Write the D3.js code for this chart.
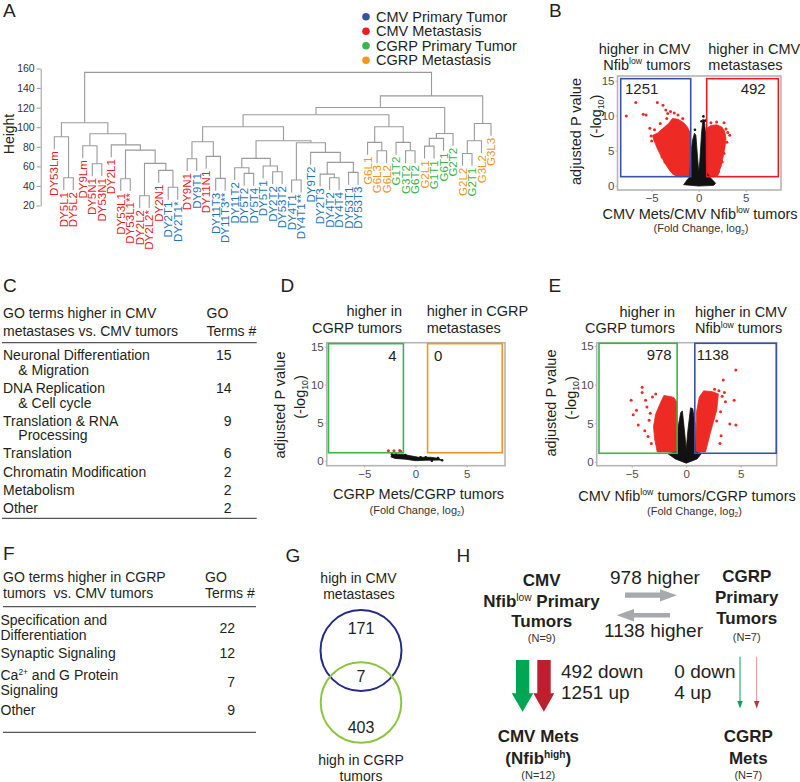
<!DOCTYPE html>
<html><head><meta charset="utf-8">
<script src="https://cdn.jsdelivr.net/npm/d3@7"></script>
<style>
body{margin:0;background:#fff;}
svg{font-family:"Liberation Sans",Arial,Helvetica,sans-serif;}
</style></head><body>
<svg id="chart" width="800" height="782"></svg>
<script>
// ---------------- DATA ----------------
const legendLabels = ["CMV Primary Tumor","CMV Metastasis","CGRP Primary Tumor","CGRP Metastasis"];
const legendColors = ["#3953a4","#ed1c24","#39b54a","#f7941d"];
const labelColors = {CP:"#1c75bc", CM:"#ed1c24", GP:"#39b54a", GM:"#f7941d"};
const cmvMetLeaves = ["DY53Lm","DY5L1","DY5L2","DY9Lm","DY5N1","DY53N1","DY2L1","DY53L1","DY53L1**","DY2L2","DY2L2*","DY2N1","DY9N1","DY11N1"];
const cgrpMetLeaves = ["G6L1","G6L3","G6L2","G2L1","G2L2","G3L2","G3L3"];
const cgrpPrimLeaves = ["G1T2","G3T2","G6T2","G1T1","G6T1","G2T2","G2T1"];
// dendrogram: [mergeHeight, left, right]
const dendroTree = [156,
  [104.5,
    [90.2, "DY53Lm", [48.4, "DY5L1", "DY5L2"]],
    [93.3,
      [81, "DY9Lm", [62.7, "DY5N1", "DY53N1"]],
      [82, "DY2L1",
        [76.6,
          [47.3, "DY53L1", "DY53L1**"],
          [63, [30, "DY2L2", "DY2L2*"], [55.9, "DY2N1", [38.6, "DY2T1", "DY2T1*"]]]]]]],
  [132,
    [120.2,
      [112.7,
        [100.4,
          [85.1, [67.8, "DY9N1", "DY9T1"], [70.2, "DY11N1", [47.7, "DY11T3", "DY11T3**"]]],
          [86.1,
            [68.2, [58.6, "DY11T2", [52.8, "DY5T2", "DY5T4"]], [60.3, "DY5T1", [54.5, "DY2T2", "DY53T2"]]],
            [84.1, [46, "DY4T1", "DY4T1**"],
              [74.3, "DY9T2", [64.1, [52.1, "DY2T3", [48.4, "DY4T2", "DY4T4"]], [53.9, "DY53T1", "DY53T3"]]]]]],
        [100.4,
          [84.5, "G6L1", [75.9, "G6L3", "G6L2"]],
          [84.5, "G1T2", [75.9, "G3T2", "G6T2"]]]],
      [93.6, [88.6, [80.7, "G2L1", "G1T1"], "G6T1"], "G2T2"]],
    [103.8, [86.1, [73.2, "G2L2", "G2T1"], "G3L2"], "G3L3"]]];
const heightTicks = [20,40,60,80,100,120,140,160];
const volcanoTicksX = [-5,0,5];
const volcanoTicksY = [0,5,10,15];

// Panel B (CMV Mets / CMV Nfib-low tumors)
const bRedLeft = [[-0.92,1.3],[-2.4,1.3],[-3.0,2.0],[-3.5,3.0],[-4.0,4.2],[-4.4,5.3],[-4.8,6.6],[-4.9,7.2],[-4.4,7.5],[-3.8,8.2],[-3.2,8.9],[-2.8,9.6],[-2.2,9.5],[-1.6,9.0],[-1.2,8.4],[-0.92,7.6]];
const bRedRight = [[0.8,1.3],[2.0,1.3],[2.3,2.5],[2.55,3.8],[2.8,5.5],[2.9,6.8],[2.75,7.8],[2.45,8.4],[1.9,8.7],[1.3,8.6],[0.95,8.3],[0.8,7.0]];
const bBlack = [[-1.6,0.15],[-1.2,0.9],[-0.92,1.3],[-0.85,4.5],[-0.65,6.5],[-0.45,7.5],[-0.3,7.2],[-0.12,4.0],[0,2.0],[0.12,3.5],[0.3,7.5],[0.45,9.5],[0.6,9.3],[0.75,7.2],[0.78,2.0],[1.2,1.2],[1.8,0.35],[1.6,0.05],[0,-0.05]];
const bRedPts = [[-7.7,9.96],[-6.7,11.9],[-5.9,10.2],[-5.6,10.1],[-4.4,11.9],[-3.8,11.5],[-3.5,10.8],[-5.06,7.1],[-5.2,8.2],[-4.7,8.0],[-3.9,4.1],[-5.0,6.4],[-4.3,5.7],[-4.5,6.9],[-3.3,10.3],[-3.0,10.6],[-2.6,10.4],[-4.1,8.9],[-3.6,3.4],[-3.1,2.6],[-2.7,1.8],[-3.4,9.6],[-2.2,10.1],[-1.7,9.6],[2.7,9.0],[3.3,7.2],[3.1,7.6],[2.6,5.5],[2.2,4.2],[2.7,4.6],[2.3,2.9],[2.9,8.1],[1.9,9.1],[1.3,9.0],[3.0,6.2],[2.5,3.4],[2.1,2.0]];
const bBlackPts = [[0.5,9.9],[0.3,9.2],[-0.4,8.0],[0.7,9.3]];
const bCounts = [1251, 492];

// Panel D (CGRP Mets / CGRP tumors)
const dBlack = [[-2.3,0.85],[-1.2,0.85],[-0.5,0.65],[0.3,0.45],[1.5,0.45],[2.3,0.3],[2.5,0.08],[1.0,0.05],[0.0,0.0],[-1.0,0.2],[-2.0,0.3],[-2.4,0.5]];
const dRedPts = [[-2.65,1.32],[-2.1,1.3],[-1.55,1.35],[-1.45,1.25]];
const dBlackPts = [[-2.3,0.85],[-1.9,0.8],[-1.0,0.75],[0.5,0.45],[1.6,0.0],[2.6,0.05],[2.2,0.35],[1.0,0.45]];
const dCounts = [4, 0];

// Panel E (CMV Nfib-low tumors / CGRP tumors)
const eRedLeft = [[-0.83,1.3],[-2.66,1.3],[-2.9,3.0],[-3.0,4.6],[-2.8,6.2],[-2.5,7.2],[-2.05,8.6],[-1.6,8.5],[-1.14,8.35],[-0.83,7.7]];
const eRedRight = [[0.85,1.3],[1.77,1.3],[2.2,3.7],[2.8,6.7],[2.95,8.8],[2.4,9.1],[1.6,9.2],[1.2,8.4],[0.95,6.5]];
const eBlack = [[-1.7,1.1],[-0.83,1.3],[-0.75,4.5],[-0.5,6.4],[-0.35,6.6],[-0.12,3.5],[0,1.6],[0.15,4.0],[0.4,7.0],[0.6,6.9],[0.8,5.0],[0.82,1.3],[1.4,1.1],[1.0,0.4],[0,-0.15],[-1.0,0.4]];
const eRedPts = [[-5.05,8.0],[-4.86,6.1],[-4.56,6.7],[-4.04,9.66],[-4.04,9.0],[-3.73,8.0],[-4.4,4.8],[-3.4,5.4],[-3.8,4.05],[-3.5,3.3],[-3.2,2.4],[-2.8,8.8],[-3.1,8.4],[-3.3,6.3],[-3.6,7.1],[3.4,10.6],[4.55,11.9],[4.4,8.0],[4.56,4.8],[4.0,4.9],[3.6,7.8],[3.15,6.5],[3.1,2.4],[3.5,9.0],[3.3,8.5],[2.8,5.3],[3.0,9.2],[2.6,9.4],[3.2,3.4]];
const eBlackPts = [];
const eCounts = [978, 1138];

// Panel C table
const goCmvTerms = [["Neuronal Differentiation","& Migration"],["DNA Replication","& Cell cycle"],["Translation & RNA","Processing"],["Translation"],["Chromatin Modification"],["Metabolism"],["Other"]];
const goCmvCounts = [15,14,9,6,2,2,2];
// Panel F table
const goCgrpTerms = [["Specification and","Differentiation"],["Synaptic Signaling"],[["Ca",["2+","sup"]," and G Protein"],"Signaling"],["Other"]];
const goCgrpCounts = [22,12,7,9];
// Panel G venn
const vennCounts = [171, 7, 403];
// Panel H summary
const hCmvDiff = [492, 1251];
const hCgrpDiff = [0, 4];
const hBetween = [978, 1138];
const hN = {cmvPrim:9, cgrpPrim:7, cmvMet:12, cgrpMet:7};

// ---------------- HELPERS ----------------
const svg = d3.select("#chart");
const ink = "#231f20";
function rich(parent, x, y, parts, o) {
  const size = o.size;
  const t = parent.append("text").attr("x", x).attr("y", y).attr("font-size", size)
    .attr("fill", o.fill || ink).attr("text-anchor", o.anchor || "start");
  if (o.weight) t.attr("font-weight", o.weight);
  if (o.transform) t.attr("transform", o.transform);
  let shift = 0;
  (Array.isArray(parts) ? parts : [parts]).forEach(p => {
    let s = p, kind = null;
    if (Array.isArray(p)) { s = p[0]; kind = p[1]; }
    const target = kind === "sup" ? -size * 0.36 : kind === "sub" ? size * 0.25 : 0;
    const ts = t.append("tspan").text(s);
    if (target !== shift) { ts.attr("dy", target - shift); shift = target; }
    if (kind) { ts.attr("font-size", size * 0.6); if (o.supWeight) ts.attr("font-weight", o.supWeight); }
  });
  return t;
}
function panelLetter(ch, x, y) {
  svg.append("text").attr("x", x).attr("y", y).attr("font-size", 19).attr("font-weight", 300)
    .attr("fill", ink).text(ch);
}

// ---------------- PANEL A: dendrogram ----------------
(function () {
  const g = svg.append("g");
  function leavesOf(n, out) { if (typeof n === "string") out.push(n); else { leavesOf(n[1], out); leavesOf(n[2], out); } return out; }
  const leaves = leavesOf(dendroTree, []);
  const x = d3.scalePoint().domain(leaves).range([54.3, 491]);
  const y = d3.scaleLinear().domain([20, 160]).range([205.5, 68.5]);
  const HANG = 12.6;
  function groupOf(name) {
    if (cmvMetLeaves.includes(name)) return "CM";
    if (cgrpMetLeaves.includes(name)) return "GM";
    if (cgrpPrimLeaves.includes(name)) return "GP";
    return "CP";
  }
  const lines = g.append("g").attr("fill", "none").attr("stroke", "#9a9a9a").attr("stroke-width", 1.1);
  const labels = g.append("g").attr("font-size", 11.5);
  function draw(n, parentH) {
    if (typeof n === "string") {
      const h = parentH - HANG;
      const px = x(n), py = y(h);
      labels.append("text").attr("transform", `translate(${px},${py + 2}) rotate(-90)`)
        .attr("text-anchor", "end").attr("dy", "0.36em").attr("fill", labelColors[groupOf(n)]).text(n);
      return { x: px, h: h };
    }
    const l = draw(n[1], n[0]), r = draw(n[2], n[0]);
    lines.append("path").attr("d", `M${l.x},${y(l.h)}V${y(n[0])}H${r.x}V${y(r.h)}`);
    return { x: (l.x + r.x) / 2, h: n[0] };
  }
  draw(dendroTree, dendroTree[0]);
  const ax = g.append("g").attr("transform", "translate(40.7,0)")
    .call(d3.axisLeft(y).tickValues(heightTicks).tickSize(4).tickPadding(2).tickSizeOuter(0));
  ax.select(".domain").attr("stroke", "#9a9a9a");
  ax.selectAll(".tick line").attr("stroke", "#9a9a9a");
  ax.selectAll(".tick text").attr("font-size", 10.5).attr("fill", "#333").attr("font-family", null);
  g.append("text").attr("transform", "translate(14,134) rotate(-90)").attr("text-anchor", "middle")
    .attr("font-size", 14).attr("fill", ink).text("Height");
  // legend
  const lg = g.append("g");
  legendLabels.forEach((lab, i) => {
    const yy = 16.7 + i * 14.5;
    lg.append("circle").attr("cx", 366).attr("cy", yy).attr("r", 3.8).attr("fill", legendColors[i]);
    lg.append("text").attr("x", 376).attr("y", yy + 5).attr("font-size", 14.5).attr("fill", ink).text(lab);
  });
})();

// ---------------- VOLCANO PLOTS ----------------
function volcano(c) {
  const g = svg.append("g");
  const x = d3.scaleLinear().domain([-5, 5]).range(c.xr);
  const y = d3.scaleLinear().domain([0, 15]).range(c.yr);
  const line = d3.line().x(d => x(d[0])).y(d => y(d[1])).curve(d3.curveLinearClosed);
  g.append("rect").attr("x", c.frame[0]).attr("y", c.frame[1]).attr("width", c.frame[2] - c.frame[0])
    .attr("height", c.frame[3] - c.frame[1]).attr("fill", "none").attr("stroke", "#b5b5b5").attr("stroke-width", 1.6);
  const ax = g.append("g").attr("transform", `translate(0,${c.frame[3]})`)
    .call(d3.axisBottom(x).tickValues(volcanoTicksX).tickSize(2).tickPadding(2).tickSizeOuter(0));
  const ay = g.append("g").attr("transform", `translate(${c.frame[0]},0)`)
    .call(d3.axisLeft(y).tickValues(volcanoTicksY).tickSize(2).tickPadding(1).tickSizeOuter(0));
  [ax, ay].forEach(a => {
    a.select(".domain").remove();
    a.selectAll(".tick line").attr("stroke", "#b5b5b5");
    a.selectAll(".tick text").attr("font-size", 11.5).attr("fill", "#4d4d4d").attr("font-family", null);
  });
  c.redAreas.forEach(a => g.append("path").attr("d", line(a)).attr("fill", "#ee2a24").attr("stroke", "#ee2a24").attr("stroke-width", 0.8).attr("stroke-linejoin", "round"));
  if (c.black) g.append("path").attr("d", line(c.black)).attr("fill", "#111").attr("stroke", "#111").attr("stroke-width", 0.8).attr("stroke-linejoin", "round");
  g.selectAll(".rp").data(c.redPts).join("circle").attr("cx", d => x(d[0])).attr("cy", d => y(d[1])).attr("r", 1.5).attr("fill", "#ee2a24");
  g.selectAll(".bp").data(c.blackPts).join("circle").attr("cx", d => x(d[0])).attr("cy", d => y(d[1])).attr("r", 1.3).attr("fill", "#111");
  c.boxes.forEach(b => {
    g.append("rect").attr("x", x(b.x0)).attr("y", y(b.y1)).attr("width", x(b.x1) - x(b.x0))
      .attr("height", y(b.y0) - y(b.y1)).attr("fill", "none").attr("stroke", b.color).attr("stroke-width", 1.6);
  });
  c.counts.forEach((v, i) => g.append("text").attr("x", c.countPos[i][0]).attr("y", c.countPos[i][1])
    .attr("text-anchor", c.countPos[i][2]).attr("font-size", 15).attr("fill", ink).text(v));
  c.leftHead.forEach((ln, i) => rich(g, c.leftHeadX, c.headY[i], ln, { size: 14.5, anchor: c.leftHeadAnchor }));
  c.rightHead.forEach((ln, i) => rich(g, c.rightHeadX, c.headY[i], ln, { size: 14.5, anchor: "start" }));
  rich(g, 0, 0, "adjusted P value", { size: 14.5, anchor: "middle", transform: `translate(${c.yTitle[0]},${c.yTitle[1]}) rotate(-90)` });
  rich(g, 0, 0, ["(-log", ["10", "sub"], ")"], { size: 14.5, anchor: "middle", transform: `translate(${c.yTitle2[0]},${c.yTitle2[1]}) rotate(-90)` });
  rich(g, c.xTitle[0], c.xTitle[1], c.xTitleParts, { size: 14.5, anchor: "middle" });
  rich(g, c.xSub[0], c.xSub[1], ["(Fold Change, log", ["2", "sub"], ")"], { size: 11, anchor: "middle", fill: "#333" });
}

volcano({
  xr: [651.7, 745.7], yr: [185.7, 80.7], frame: [617.5, 76, 781, 190],
  redAreas: [bRedLeft, bRedRight], black: bBlack, redPts: bRedPts, blackPts: bBlackPts,
  boxes: [{ x0: -8.3, x1: -0.85, y0: 1.29, y1: 15.29, color: "#3953a4" }, { x0: 0.85, x1: 8.47, y0: 1.29, y1: 15.29, color: "#ed1c24" }],
  counts: bCounts, countPos: [[625, 93.5, "start"], [765.7, 93.5, "end"]],
  leftHead: ["higher in CMV", ["Nfib", ["low", "sup"], " tumors"]], leftHeadX: 690.5, leftHeadAnchor: "end",
  rightHead: ["higher in CMV", "metastases"], rightHeadX: 708.3, headY: [53.5, 69.5],
  yTitle: [580.5, 131.5], yTitle2: [600.5, 116.5],
  xTitle: [700, 218.5], xTitleParts: ["CMV Mets/CMV Nfib", ["low", "sup"], " tumors"], xSub: [701, 232]
});
volcano({
  xr: [364.3, 466.7], yr: [460.7, 346.7], frame: [326.7, 342.7, 505, 465.7],
  redAreas: [], black: dBlack, redPts: dRedPts, blackPts: dBlackPts,
  boxes: [{ x0: -8.5, x1: -1.18, y0: 1.05, y1: 15.4, color: "#39b54a" }, { x0: 1.18, x1: 8.47, y0: 1.05, y1: 15.4, color: "#f7941d" }],
  counts: dCounts, countPos: [[396.7, 361, "end"], [434, 361, "start"]],
  leftHead: ["higher in", "CGRP tumors"], leftHeadX: 402, leftHeadAnchor: "end",
  rightHead: ["higher in CGRP", "metastases"], rightHeadX: 426.7, headY: [316, 332.7],
  yTitle: [284.5, 405], yTitle2: [304.5, 397],
  xTitle: [418.5, 499.3], xTitleParts: ["CGRP Mets/CGRP tumors"], xSub: [417, 513.5]
});
volcano({
  xr: [631.7, 740.7], yr: [462, 346], frame: [596.7, 342.7, 776.7, 465.7],
  redAreas: [eRedLeft, eRedRight], black: eBlack, redPts: eRedPts, blackPts: eBlackPts,
  boxes: [{ x0: -8.0, x1: -0.83, y0: 1.13, y1: 15.35, color: "#39b54a" }, { x0: 0.79, x1: 8.26, y0: 1.13, y1: 15.35, color: "#3953a4" }],
  counts: eCounts, countPos: [[671.7, 360, "end"], [696.7, 360, "start"]],
  leftHead: ["higher in", "CGRP tumors"], leftHeadX: 675, leftHeadAnchor: "end",
  rightHead: ["higher in CMV", ["Nfib", ["low", "sup"], " tumors"]], rightHeadX: 695, headY: [316.7, 333],
  yTitle: [555.5, 403], yTitle2: [575.5, 398],
  xTitle: [687, 500.5], xTitleParts: ["CMV Nfib", ["low", "sup"], " tumors/CGRP tumors"], xSub: [694.5, 514.5]
});

// ---------------- PANEL C table ----------------
(function () {
  const g = svg.append("g").attr("font-size", 14).attr("fill", ink);
  g.append("text").attr("x", 3).attr("y", 317.5).text("GO terms higher in CMV");
  g.append("text").attr("x", 3).attr("y", 335.5).text("metastases vs. CMV tumors");
  g.append("text").attr("x", 206.5).attr("y", 317.5).text("GO");
  g.append("text").attr("x", 206.5).attr("y", 335.5).text("Terms #");
  g.append("line").attr("x1", 2).attr("x2", 256.7).attr("y1", 342.7).attr("y2", 342.7).attr("stroke", "#555").attr("stroke-width", 1.3);
  g.append("line").attr("x1", 2).attr("x2", 256.7).attr("y1", 518.3).attr("y2", 518.3).attr("stroke", "#555").attr("stroke-width", 1.3);
  const rowY = [360, 393.3, 425.7, 458.3, 476.7, 495, 513.3];
  goCmvTerms.forEach((lines, i) => {
    lines.forEach((ln, j) => g.append("text").attr("x", j === 0 ? 3 : 18.3).attr("y", rowY[i] + j * 14.7).text(ln));
    g.append("text").attr("x", 231.5).attr("y", rowY[i]).attr("text-anchor", "end").text(goCmvCounts[i]);
  });
})();

// ---------------- PANEL F table ----------------
(function () {
  const g = svg.append("g").attr("font-size", 14).attr("fill", ink);
  g.append("text").attr("x", 3).attr("y", 581.7).text("GO terms higher in CGRP");
  g.append("text").attr("x", 3).attr("y", 598.3).attr("xml:space", "preserve").text("tumors  vs. CMV tumors");
  g.append("text").attr("x", 205).attr("y", 581.7).text("GO");
  g.append("text").attr("x", 205).attr("y", 598.3).text("Terms #");
  g.append("line").attr("x1", 3).attr("x2", 256).attr("y1", 606.7).attr("y2", 606.7).attr("stroke", "#555").attr("stroke-width", 1.3);
  g.append("line").attr("x1", 3).attr("x2", 256).attr("y1", 732.3).attr("y2", 732.3).attr("stroke", "#555").attr("stroke-width", 1.3);
  const rowY = [625, 658.3, 680, 715];
  const numY = [633.3, 658.3, 686.7, 715];
  goCgrpTerms.forEach((lines, i) => {
    lines.forEach((ln, j) => rich(g, 0.5, rowY[i] + j * 15.2, ln, { size: 14 }));
    g.append("text").attr("x", 235).attr("y", numY[i]).attr("text-anchor", "end").text(goCgrpCounts[i]);
  });
})();

// ---------------- PANEL G venn ----------------
(function () {
  const g = svg.append("g").attr("fill", ink);
  g.append("text").attr("x", 358.5).attr("y", 582.7).attr("text-anchor", "middle").attr("font-size", 14).text("high in CMV");
  g.append("text").attr("x", 359).attr("y", 598.5).attr("text-anchor", "middle").attr("font-size", 14).text("metastases");
  g.append("circle").attr("cx", 361).attr("cy", 650.5).attr("r", 40.5).attr("fill", "none").attr("stroke", "#262a87").attr("stroke-width", 2);
  g.append("circle").attr("cx", 361).attr("cy", 702.5).attr("r", 40.3).attr("fill", "none").attr("stroke", "#8cc63f").attr("stroke-width", 2);
  const ys = [634, 682.3, 733];
  vennCounts.forEach((v, i) => g.append("text").attr("x", 361).attr("y", ys[i]).attr("text-anchor", "middle").attr("font-size", 16).text(v));
  g.append("text").attr("x", 361).attr("y", 765).attr("text-anchor", "middle").attr("font-size", 14).text("high in CGRP");
  g.append("text").attr("x", 361).attr("y", 780.5).attr("text-anchor", "middle").attr("font-size", 14).text("tumors");
})();

// ---------------- PANEL H summary ----------------
(function () {
  const g = svg.append("g");
  const B = { size: 17, anchor: "middle", weight: "bold" };
  rich(g, 541.7, 585.7, "CMV", B);
  rich(g, 541.5, 606.7, ["Nfib", ["low", "sup"], " Primary"], Object.assign({}, B, { supWeight: "normal" }));
  rich(g, 541.7, 626.5, "Tumors", B);
  rich(g, 541.7, 642, `(N=${hN.cmvPrim})`, { size: 11, anchor: "middle", fill: "#333" });
  rich(g, 746.7, 582.4, "CGRP", B);
  rich(g, 746.7, 603, "Primary", B);
  rich(g, 746.7, 624, "Tumors", B);
  rich(g, 746.7, 640.5, `(N=${hN.cgrpPrim})`, { size: 11, anchor: "middle", fill: "#333" });
  rich(g, 538.3, 742.4, "CMV Mets", B);
  rich(g, 538.3, 764, ["(Nfib", ["high", "sup"], ")"], B);
  rich(g, 538.3, 779, `(N=${hN.cmvMet})`, { size: 11, anchor: "middle", fill: "#333" });
  rich(g, 748.3, 742.4, "CGRP", B);
  rich(g, 748.3, 764, "Mets", B);
  rich(g, 748.3, 779, `(N=${hN.cgrpMet})`, { size: 11, anchor: "middle", fill: "#333" });
  rich(g, 610, 584, `${hBetween[0]} higher`, { size: 19 });
  rich(g, 604, 637, `${hBetween[1]} higher`, { size: 19 });
  rich(g, 561, 677.5, `${hCmvDiff[0]} down`, { size: 19 });
  rich(g, 561, 698.5, `${hCmvDiff[1]} up`, { size: 19 });
  rich(g, 674.3, 677.5, `${hCgrpDiff[0]} down`, { size: 19 });
  rich(g, 674.3, 698.5, `${hCgrpDiff[1]} up`, { size: 19 });
  const gray = "#a7a9ac";
  g.append("path").attr("fill", gray).attr("d", "M625,592.6H660V589.3L677,595.2L660,601.5V597.8H625Z");
  g.append("path").attr("fill", gray).attr("d", "M670,613H634V609L616.7,615.2L634,621.5V617.6H670Z");
  g.append("path").attr("fill", "#00a651").attr("d", "M516,660H529.3V693.3H533.3L522.6,711.7L511.7,693.3H516Z");
  g.append("path").attr("fill", "#be1e2d").attr("d", "M537.3,660H550.7V693.3H554.3L543.9,711.7L533.3,693.3H537.3Z");
  g.append("line").attr("x1", 740).attr("x2", 740).attr("y1", 656.7).attr("y2", 703).attr("stroke", "#00a651").attr("stroke-width", 1);
  g.append("path").attr("fill", "#00a651").attr("d", "M737.3,701L740,708.5L742.7,701Z");
  g.append("line").attr("x1", 756.7).attr("x2", 756.7).attr("y1", 656.7).attr("y2", 703).attr("stroke", "#e58c95").attr("stroke-width", 1);
  g.append("path").attr("fill", "#c8303f").attr("d", "M754,701L756.7,708.5L759.4,701Z");
})();

panelLetter("A", 3, 16.7);
panelLetter("B", 549, 16.7);
panelLetter("C", 3, 291.7);
panelLetter("D", 280.5, 291.7);
panelLetter("E", 548.5, 292);
panelLetter("F", 3, 560);
panelLetter("G", 285.5, 562);
panelLetter("H", 456.5, 562);
</script></body></html>
